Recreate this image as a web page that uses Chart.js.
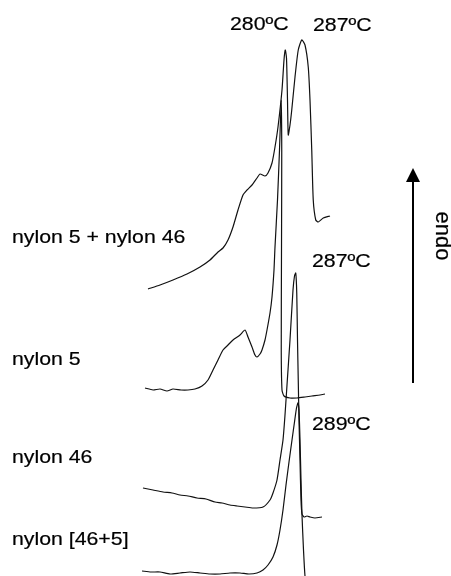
<!DOCTYPE html>
<html>
<head>
<meta charset="utf-8">
<script src="https://cdn.jsdelivr.net/npm/chart.js@4"></script>
<style>
  html, body { margin: 0; padding: 0; background: #fff; }
  #wrap { width: 451px; height: 576px; position: relative; }
</style>
</head>
<body>
<div id="wrap"><canvas id="dsc"></canvas></div>
<script>
// DSC traces, temperature (ºC) vs heat flow (arb. units, curves offset)
const seriesNames = ['nylon 5 + nylon 46', 'nylon 5', 'nylon 46', 'nylon [46+5]']

const blendT = [225.6, 230.4, 235.6, 241.2, 246.4, 250.4, 253.6, 255.6, 257.6, 259.6, 261.6, 263.6, 265.2, 267.2, 269.2, 270.4, 272.4, 273.6, 275.2, 276.4, 277.6, 279.2, 280.0, 280.5, 281.0, 281.4, 281.7, 282.4, 283.1, 284.4, 285.7, 287.1, 288.4, 289.7, 290.4, 291.1, 291.7, 292.7, 293.7, 295.7, 298.4]
const blendH = [28.7, 29.1, 29.6, 30.2, 30.9, 31.6, 32.4, 32.8, 33.6, 34.9, 36.6, 38.1, 38.6, 39.1, 39.8, 40.2, 40.0, 40.3, 41.3, 42.9, 44.9, 48.6, 51.6, 52.6, 51.8, 47.6, 44.1, 45.1, 46.6, 49.9, 52.6, 53.6, 53.1, 50.9, 47.6, 42.6, 37.6, 35.6, 35.4, 35.8, 36.0]

const n5T = [224.4, 227.6, 230.4, 233.2, 235.6, 238.8, 241.6, 244.4, 247.2, 249.6, 251.6, 253.6, 255.6, 257.6, 259.6, 262.4, 264.4, 265.6, 267.2, 268.4, 269.2, 270.4, 271.2, 272.4, 273.2, 274.4, 275.2, 276.0, 276.4, 277.4, 278.2, 278.9, 279.1, 279.0, 278.9, 279.2, 280.0, 282.4, 285.2, 288.4, 291.2, 294.4, 296.4]
const n5H = [18.8, 18.6, 18.7, 18.5, 18.7, 18.6, 18.6, 18.7, 19.0, 19.6, 20.6, 21.6, 22.6, 23.1, 23.6, 24.1, 24.6, 23.9, 22.9, 22.1, 21.9, 22.2, 22.6, 23.6, 24.6, 26.3, 27.9, 30.6, 32.9, 37.6, 42.6, 47.6, 42.6, 32.6, 22.6, 18.6, 18.0, 17.8, 17.8, 17.9, 18.0, 18.1, 18.2]

const n46T = [223.6, 227.6, 231.6, 235.2, 238.4, 241.6, 245.2, 248.8, 252.4, 255.2, 258.4, 261.2, 264.4, 267.6, 271.6, 274.4, 275.6, 277.2, 278.4, 279.6, 280.4, 281.2, 282.4, 283.6, 284.2, 284.7, 285.1, 285.4, 285.7, 286.0, 286.4, 286.8, 287.2, 288.0, 289.2, 290.4, 292.4, 295.2]
const n46H = [8.8, 8.6, 8.4, 8.3, 8.1, 8.0, 7.8, 7.7, 7.4, 7.3, 7.1, 7.0, 6.9, 6.8, 6.9, 7.6, 8.3, 9.6, 11.6, 13.6, 16.1, 19.1, 23.6, 28.6, 30.0, 30.3, 28.3, 23.6, 19.6, 15.6, 11.6, 7.6, 6.2, 5.9, 6.0, 5.9, 5.8, 5.9]

const mixT = [223.2, 226.8, 230.4, 234.4, 238.4, 242.4, 246.4, 250.4, 254.4, 258.4, 262.4, 266.0, 269.2, 271.6, 273.6, 275.6, 277.2, 278.4, 279.6, 280.8, 282.0, 283.2, 284.2, 285.0, 285.6, 286.0, 286.4, 286.8, 287.2, 287.8, 288.4, 288.8, 291.2, 294.4]
const mixH = [0.5, 0.4, 0.4, 0.2, 0.3, 0.4, 0.3, 0.2, 0.2, 0.3, 0.3, 0.2, 0.3, 0.6, 1.1, 1.9, 3.1, 4.6, 6.6, 9.1, 11.4, 13.6, 15.4, 16.8, 17.3, 16.6, 13.6, 9.6, 6.1, 2.6, 0.0, -0.2, -0.1, -0.1]

const peakLabels = ['280ºC', '287ºC', '287ºC', '289ºC']

function pts(xs, ys) {
  return xs.map((x, i) => ({ x: x, y: ys[i] }))
}

// label placement in data units: [text, temperature, heat flow]
const textMarks = [
  [seriesNames[0], 171.2, 33.3],
  [seriesNames[1], 171.2, 21.1],
  [seriesNames[2], 171.2, 11.3],
  [seriesNames[3], 171.2, 3.1],
  [peakLabels[0], 258.4, 54.6],
  [peakLabels[1], 291.6, 54.5],
  [peakLabels[2], 291.2, 30.9],
  [peakLabels[3], 291.2, 14.6]
]

const annotate = {
  id: 'annotate',
  afterDraw(chart) {
    const ctx = chart.ctx
    const xs = chart.scales.x
    const ys = chart.scales.y
    ctx.save()
    ctx.fillStyle = '#000'
    ctx.strokeStyle = '#000'
    ctx.font = '19px "Liberation Sans", Arial, sans-serif'
    ctx.textBaseline = 'alphabetic'
    ctx.textAlign = 'left'
    ctx.lineWidth = 0.2
    textMarks.forEach(m => {
      ctx.save()
      ctx.translate(xs.getPixelForValue(m[1]), ys.getPixelForValue(m[2]))
      ctx.scale(1.12, 1)
      ctx.fillText(m[0], 0, 0)
      ctx.strokeText(m[0], 0, 0)
      ctx.restore()
    })

    // endo arrow
    const ax = xs.getPixelForValue(331.6)
    const tail = ys.getPixelForValue(19.3)
    const tip = ys.getPixelForValue(40.8)
    ctx.lineWidth = 2
    ctx.beginPath()
    ctx.moveTo(ax, tail)
    ctx.lineTo(ax, tip + 12)
    ctx.stroke()
    ctx.beginPath()
    ctx.moveTo(ax, tip)
    ctx.lineTo(ax - 7, tip + 14)
    ctx.lineTo(ax + 7, tip + 14)
    ctx.closePath()
    ctx.fill()

    ctx.save()
    ctx.translate(xs.getPixelForValue(343.2), ys.getPixelForValue(34.0))
    ctx.rotate(Math.PI / 2)
    ctx.font = '22px "Liberation Sans", Arial, sans-serif'
    ctx.textAlign = 'center'
    ctx.textBaseline = 'middle'
    ctx.lineWidth = 0.2
    ctx.fillText('endo', 0, 0)
    ctx.strokeText('endo', 0, 0)
    ctx.restore()
    ctx.restore()
  }
}

const lineStyle = {
  borderColor: '#111',
  borderWidth: 1.2,
  pointRadius: 0,
  tension: 0.2,
  fill: false
}

new Chart(document.getElementById('dsc'), {
  type: 'line',
  data: {
    datasets: [
      { label: seriesNames[0], data: pts(blendT, blendH), ...lineStyle },
      { label: seriesNames[1], data: pts(n5T, n5H), ...lineStyle },
      { label: seriesNames[2], data: pts(n46T, n46H), ...lineStyle },
      { label: seriesNames[3], data: pts(mixT, mixH), ...lineStyle }
    ]
  },
  options: {
    responsive: true,
    maintainAspectRatio: false,
    animation: false,
    layout: { padding: 0 },
    plugins: {
      legend: { display: false },
      tooltip: { enabled: false }
    },
    scales: {
      x: { type: 'linear', min: 166.4, max: 346.8, display: false },
      y: { type: 'linear', min: 0, max: 57.6, display: false }
    }
  },
  plugins: [annotate]
})
</script>
</body>
</html>
